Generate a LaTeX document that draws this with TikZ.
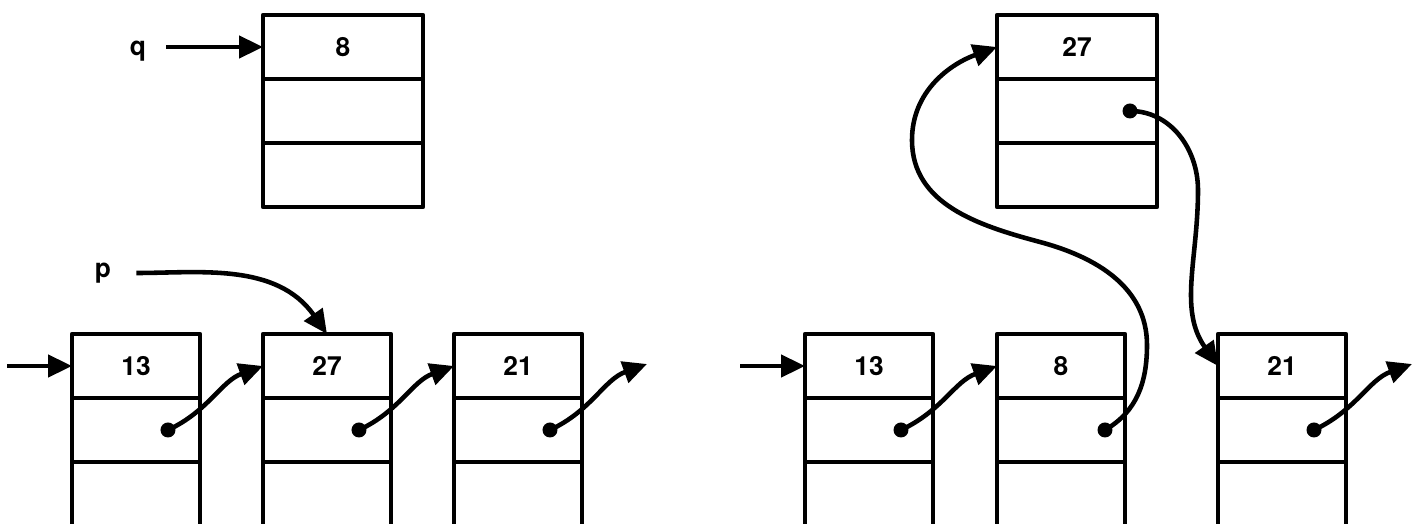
\documentclass[tikz,border=0pt]{standalone}
\usepackage{fontspec}
\setmainfont{TeX Gyre Heros}
\usetikzlibrary{positioning,arrows.meta}

\begin{document}
\begin{tikzpicture}[
x=0.02cm, y=0.02cm,
node distance=0pt,
cell/.style={draw, line width=2.6pt, line join=round, minimum width=2.56cm, minimum height=1.28cm, inner sep=0pt, outer sep=0pt, font=\bfseries\fontsize{15}{17}\selectfont},
wide/.style={minimum width=3.2cm},
deep/.style={minimum height=1.5cm},
lbl/.style={font=\bfseries\fontsize{15}{17}\selectfont, inner sep=0pt},
ptr/.style={-{Triangle[length=4.8mm,width=4.4mm]}, line width=2.6pt},
knob/.style={circle, fill, inner sep=0pt, minimum size=0.3cm}
]
\useasboundingbox (0,0) rectangle (1421,-524);

% left: before insertion
\node[lbl] (q) at (138,-51) {q};
\node[cell, wide] (Q8) at (343,-47) {8};
\node[cell, wide, below=of Q8] (Q8n) {};
\node[cell, wide, below=of Q8n] (Q8s) {};

\node[lbl] (p) at (103,-273) {p};
\node[cell] (L13) at (136,-366) {13};
\node[cell, below=of L13] (L13n) {};
\node[cell, deep, below=of L13n] (L13s) {};
\node[cell] (L27) at (327,-366) {27};
\node[cell, below=of L27] (L27n) {};
\node[cell, deep, below=of L27n] (L27s) {};
\node[cell] (L21) at (518,-366) {21};
\node[cell, below=of L21] (L21n) {};
\node[cell, deep, below=of L21n] (L21s) {};

\node[knob] (L13d) at ([xshift=-0.64cm]L13n.east) {};
\node[knob] (L27d) at ([xshift=-0.64cm]L27n.east) {};
\node[knob] (L21d) at ([xshift=-0.64cm]L21n.east) {};
\coordinate (Lin) at (7,-366);
\coordinate (Lend) at (647,-364);

\draw[ptr, shorten <=0.4cm] (q.east |- Q8.west) -- (Q8.west);
\draw[ptr, shorten <=0.5cm] (p.east) to[out=0,in=125] (L27.north);
\draw[ptr] (Lin) -- (L13.west);
\draw[ptr] (L13d.center) to[out=25,in=200] (L27.west);
\draw[ptr] (L27d.center) to[out=25,in=200] (L21.west);
\draw[ptr] (L21d.center) to[out=25,in=200] (Lend);

% right: after insertion
\node[cell, wide] (T27) at (1077,-47) {27};
\node[cell, wide, below=of T27] (T27n) {};
\node[cell, wide, below=of T27n] (T27s) {};

\node[cell] (R13) at (869,-366) {13};
\node[cell, below=of R13] (R13n) {};
\node[cell, deep, below=of R13n] (R13s) {};
\node[cell] (R8) at (1061,-366) {8};
\node[cell, below=of R8] (R8n) {};
\node[cell, deep, below=of R8n] (R8s) {};
\node[cell] (R21) at (1282,-366) {21};
\node[cell, below=of R21] (R21n) {};
\node[cell, deep, below=of R21n] (R21s) {};

\node[knob] (T27d) at ([xshift=-0.54cm]T27n.east) {};
\node[knob] (R13d) at ([xshift=-0.64cm]R13n.east) {};
\node[knob] (R8d) at ([xshift=-0.4cm]R8n.east) {};
\node[knob] (R21d) at ([xshift=-0.64cm]R21n.east) {};
\coordinate (Rin) at (740,-366);
\coordinate (Rend) at (1412,-364);

\draw[ptr] (Rin) -- (R13.west);
\draw[ptr] (R13d.center) to[out=25,in=200] (R8.west);
\draw[ptr] (R8d.center) to[out=30,in=-90] (1147,-345) to[out=90,in=-15] (1040,-242)
  to[out=165,in=-90] (912,-140) to[out=90,in=200] (T27.west);
\draw[ptr] (T27d.center) to[out=0,in=90] (1198,-190) to[out=-90,in=125] (R21.west);
\draw[ptr] (R21d.center) to[out=25,in=200] (Rend);
\end{tikzpicture}
\end{document}
